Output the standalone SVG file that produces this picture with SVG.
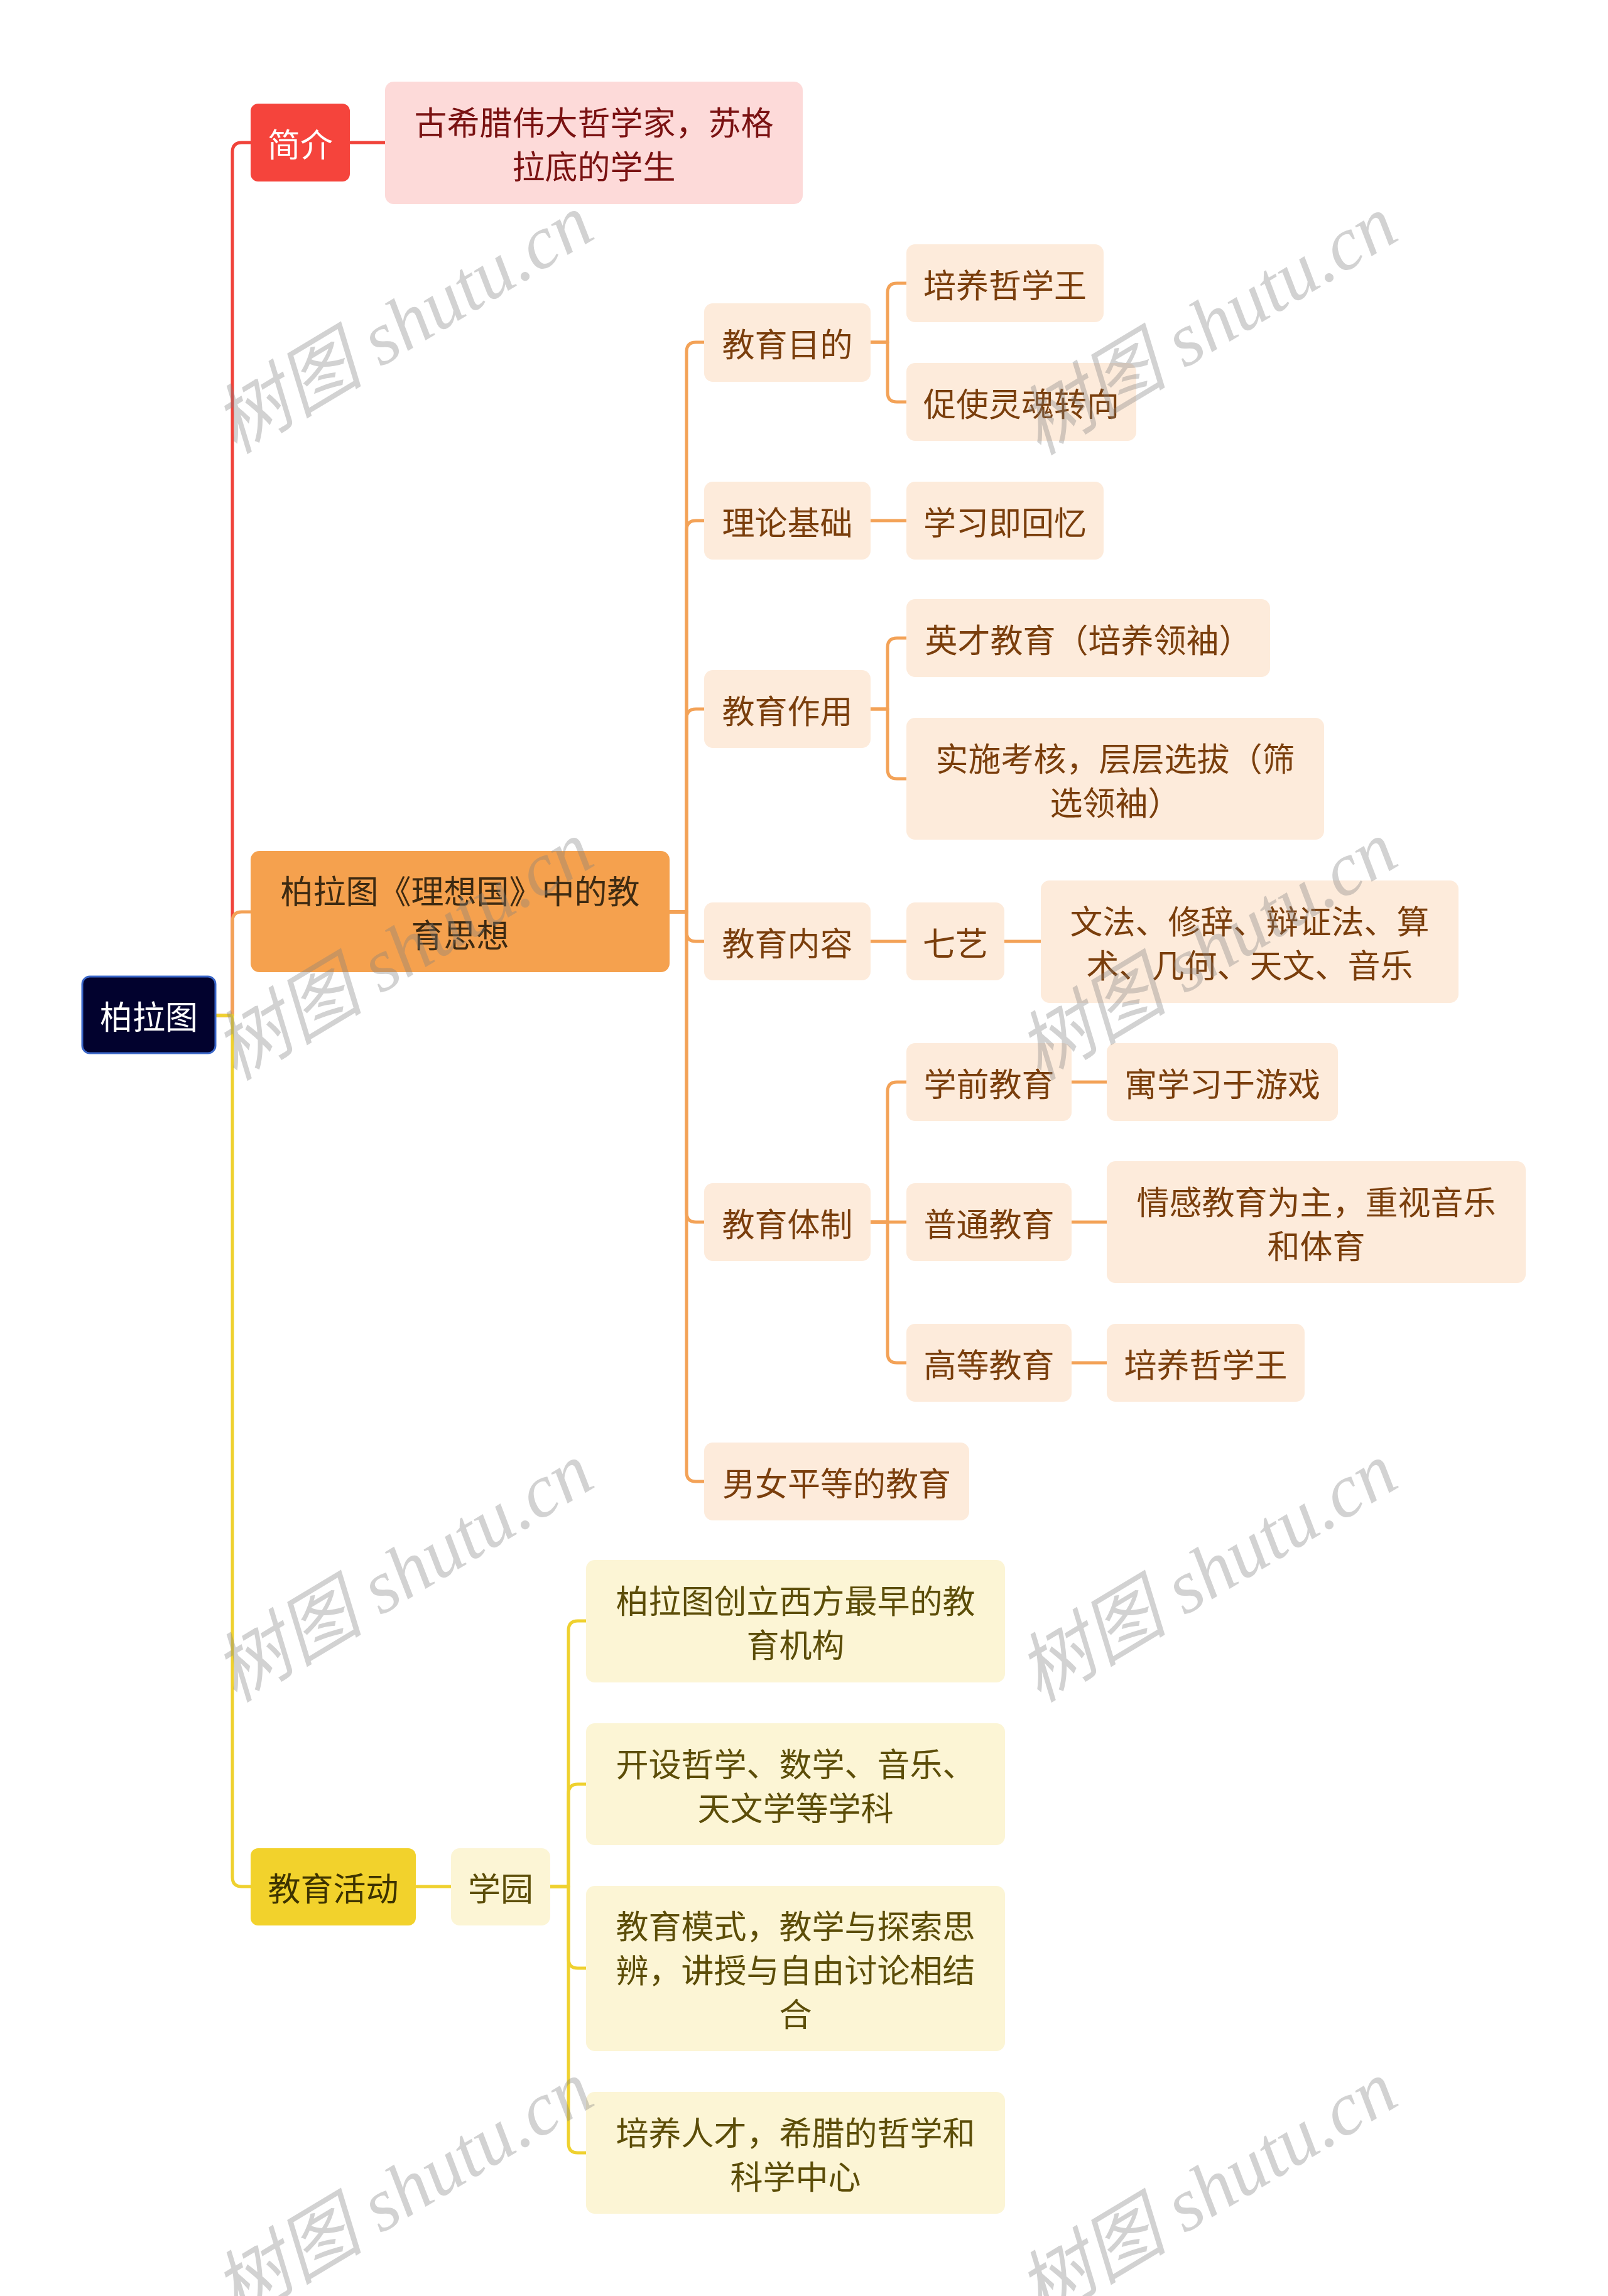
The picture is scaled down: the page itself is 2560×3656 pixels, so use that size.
<svg xmlns="http://www.w3.org/2000/svg" width="2560" height="3656" viewBox="0 0 2560 3656">
<style>
text{font-family:'Noto Sans CJK SC','Noto Sans',sans-serif;font-size:52px;text-anchor:middle;dominant-baseline:central}
.c{fill:none;stroke-width:5;stroke-linejoin:round;stroke-linecap:round}
.cr{stroke:#F0433A}.co{stroke:#F3A257}.cy{stroke:#EFD12F}
.root rect{fill:#02022E;stroke:#3A66C8;stroke-width:3}
.root text{fill:#FFFFFF}
.red rect{fill:#F5443C}.red text{fill:#FFFFFF}
.pink rect{fill:#FDDAD9}.pink text{fill:#7A1212}
.org rect{fill:#F5A14E}.org text{fill:#3D2A12}
.peach rect{fill:#FDEBDB}.peach text{fill:#7A3E0C}
.yel rect{fill:#F2D22C}.yel text{fill:#3D3300}
.lyel rect{fill:#FCF5D5}.lyel text{fill:#5C4D08}
.wm{font-family:'Liberation Serif','Noto Sans CJK SC',serif;font-style:italic;font-size:120px;fill:#808080;opacity:0.35}
</style>
<rect width="2560" height="3656" fill="#FFFFFF"/>
<g id="connectors">
<path class="c cr" d="M343,1617 H370 V242 Q370,227 385,227 H399"/>
<path class="c cr" d="M557,227 H613"/>
<path class="c co" d="M343,1617 H370 V1467 Q370,1452 385,1452 H399"/>
<path class="c cy" d="M343,1617 H370 V2989 Q370,3004 385,3004 H399"/>
<path class="c co" d="M1066,1452 H1093 V560 Q1093,545 1108,545 H1121"/>
<path class="c co" d="M1066,1452 H1093 V844 Q1093,829 1108,829 H1121"/>
<path class="c co" d="M1066,1452 H1093 V1144 Q1093,1129 1108,1129 H1121"/>
<path class="c co" d="M1066,1452 H1093 V1484 Q1093,1499 1108,1499 H1121"/>
<path class="c co" d="M1066,1452 H1093 V1931 Q1093,1946 1108,1946 H1121"/>
<path class="c co" d="M1066,1452 H1093 V2344 Q1093,2359 1108,2359 H1121"/>
<path class="c co" d="M1386,545 H1413 V466 Q1413,451 1428,451 H1443"/>
<path class="c co" d="M1386,545 H1413 V625 Q1413,640 1428,640 H1443"/>
<path class="c co" d="M1386,829 H1443"/>
<path class="c co" d="M1386,1129 H1413 V1031 Q1413,1016 1428,1016 H1443"/>
<path class="c co" d="M1386,1129 H1413 V1225 Q1413,1240 1428,1240 H1443"/>
<path class="c co" d="M1386,1499 H1443"/>
<path class="c co" d="M1599,1499 H1657"/>
<path class="c co" d="M1386,1946 H1413 V1738 Q1413,1723 1428,1723 H1443"/>
<path class="c co" d="M1386,1946 H1443"/>
<path class="c co" d="M1386,1946 H1413 V2155 Q1413,2170 1428,2170 H1443"/>
<path class="c co" d="M1706,1723 H1762"/>
<path class="c co" d="M1706,1946 H1762"/>
<path class="c co" d="M1706,2170 H1762"/>
<path class="c cy" d="M662,3004 H718"/>
<path class="c cy" d="M876,3004 H905 V2596 Q905,2581 920,2581 H933"/>
<path class="c cy" d="M876,3004 H905 V2856 Q905,2841 920,2841 H933"/>
<path class="c cy" d="M876,3004 H905 V3119 Q905,3134 920,3134 H933"/>
<path class="c cy" d="M876,3004 H905 V3413 Q905,3428 920,3428 H933"/>
</g>
<g id="n-root" class="root"><rect x="131" y="1555" width="212" height="122" rx="12"/><text x="237" y="1616">柏拉图</text></g>
<g id="n-jianjie" class="red"><rect x="399" y="165" width="158" height="124" rx="12"/><text x="478" y="227">简介</text></g>
<g id="n-jianjie-d" class="pink"><rect x="613" y="130" width="665" height="195" rx="14"/><text x="945.5" y="192">古希腊伟大哲学家，苏格</text><text x="945.5" y="262">拉底的学生</text></g>
<g id="n-lxg" class="org"><rect x="399" y="1355" width="667" height="193" rx="14"/><text x="732.5" y="1416">柏拉图《理想国》中的教</text><text x="732.5" y="1486">育思想</text></g>
<g id="n-mudi" class="peach"><rect x="1121" y="483" width="265" height="125" rx="14"/><text x="1253.5" y="545">教育目的</text></g>
<g id="n-mudi1" class="peach"><rect x="1443" y="389" width="314" height="124" rx="14"/><text x="1600" y="451">培养哲学王</text></g>
<g id="n-mudi2" class="peach"><rect x="1443" y="578" width="366" height="124" rx="14"/><text x="1626" y="640">促使灵魂转向</text></g>
<g id="n-lilun" class="peach"><rect x="1121" y="767" width="265" height="124" rx="14"/><text x="1253.5" y="829">理论基础</text></g>
<g id="n-lilun1" class="peach"><rect x="1443" y="767" width="314" height="124" rx="14"/><text x="1600" y="829">学习即回忆</text></g>
<g id="n-zuoyong" class="peach"><rect x="1121" y="1067" width="265" height="124" rx="14"/><text x="1253.5" y="1129">教育作用</text></g>
<g id="n-zuoyong1" class="peach"><rect x="1443" y="954" width="579" height="124" rx="14"/><text x="1732.5" y="1016">英才教育（培养领袖）</text></g>
<g id="n-zuoyong2" class="peach"><rect x="1443" y="1143" width="665" height="194" rx="14"/><text x="1775.5" y="1205">实施考核，层层选拔（筛</text><text x="1775.5" y="1275">选领袖）</text></g>
<g id="n-neirong" class="peach"><rect x="1121" y="1437" width="265" height="124" rx="14"/><text x="1253.5" y="1499">教育内容</text></g>
<g id="n-qiyi" class="peach"><rect x="1443" y="1437" width="156" height="124" rx="14"/><text x="1521" y="1499">七艺</text></g>
<g id="n-qiyi1" class="peach"><rect x="1657" y="1402" width="665" height="195" rx="14"/><text x="1989.5" y="1464">文法、修辞、辩证法、算</text><text x="1989.5" y="1534">术、几何、天文、音乐</text></g>
<g id="n-tizhi" class="peach"><rect x="1121" y="1884" width="265" height="124" rx="14"/><text x="1253.5" y="1946">教育体制</text></g>
<g id="n-xueqian" class="peach"><rect x="1443" y="1661" width="263" height="124" rx="14"/><text x="1574.5" y="1723">学前教育</text></g>
<g id="n-xueqian1" class="peach"><rect x="1762" y="1661" width="368" height="124" rx="14"/><text x="1946" y="1723">寓学习于游戏</text></g>
<g id="n-putong" class="peach"><rect x="1443" y="1884" width="263" height="124" rx="14"/><text x="1574.5" y="1946">普通教育</text></g>
<g id="n-putong1" class="peach"><rect x="1762" y="1849" width="667" height="194" rx="14"/><text x="2095.5" y="1911">情感教育为主，重视音乐</text><text x="2095.5" y="1981">和体育</text></g>
<g id="n-gaodeng" class="peach"><rect x="1443" y="2108" width="263" height="124" rx="14"/><text x="1574.5" y="2170">高等教育</text></g>
<g id="n-gaodeng1" class="peach"><rect x="1762" y="2108" width="315" height="124" rx="14"/><text x="1919.5" y="2170">培养哲学王</text></g>
<g id="n-nannv" class="peach"><rect x="1121" y="2297" width="422" height="124" rx="14"/><text x="1332" y="2359">男女平等的教育</text></g>
<g id="n-huodong" class="yel"><rect x="399" y="2943" width="263" height="123" rx="12"/><text x="530.5" y="3004">教育活动</text></g>
<g id="n-xueyuan" class="lyel"><rect x="718" y="2943" width="158" height="123" rx="14"/><text x="797" y="3004">学园</text></g>
<g id="n-xy1" class="lyel"><rect x="933" y="2484" width="667" height="195" rx="14"/><text x="1266.5" y="2546">柏拉图创立西方最早的教</text><text x="1266.5" y="2616">育机构</text></g>
<g id="n-xy2" class="lyel"><rect x="933" y="2744" width="667" height="194" rx="14"/><text x="1266.5" y="2806">开设哲学、数学、音乐、</text><text x="1266.5" y="2876">天文学等学科</text></g>
<g id="n-xy3" class="lyel"><rect x="933" y="3003" width="667" height="263" rx="14"/><text x="1266.5" y="3064">教育模式，教学与探索思</text><text x="1266.5" y="3134">辨，讲授与自由讨论相结</text><text x="1266.5" y="3204">合</text></g>
<g id="n-xy4" class="lyel"><rect x="933" y="3331" width="667" height="194" rx="14"/><text x="1266.5" y="3393">培养人才，希腊的哲学和</text><text x="1266.5" y="3463">科学中心</text></g>
<g id="watermarks">
<text class="wm" transform="translate(642,516) rotate(-31)">树图 shutu.cn</text>
<text class="wm" transform="translate(1922,518) rotate(-31)">树图 shutu.cn</text>
<text class="wm" transform="translate(642,1514) rotate(-31)">树图 shutu.cn</text>
<text class="wm" transform="translate(1922,1514) rotate(-31)">树图 shutu.cn</text>
<text class="wm" transform="translate(642,2504) rotate(-31)">树图 shutu.cn</text>
<text class="wm" transform="translate(1922,2504) rotate(-31)">树图 shutu.cn</text>
<text class="wm" transform="translate(642,3488) rotate(-31)">树图 shutu.cn</text>
<text class="wm" transform="translate(1922,3488) rotate(-31)">树图 shutu.cn</text>
</g>
</svg>
